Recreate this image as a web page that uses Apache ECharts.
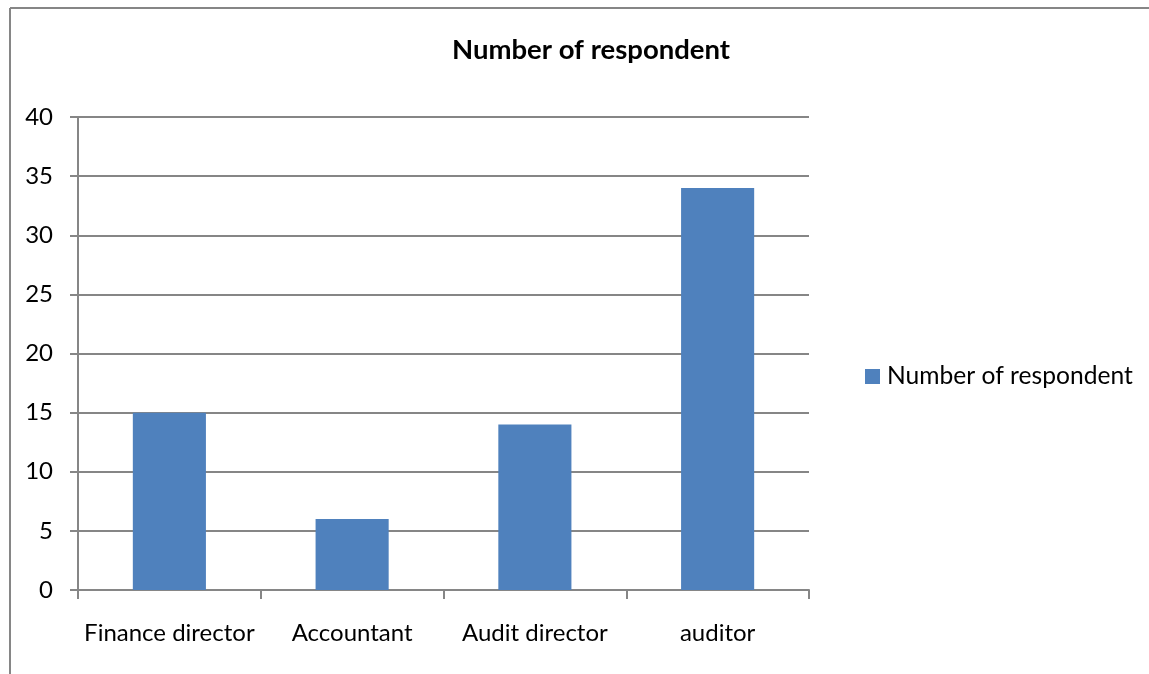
<!DOCTYPE html>
<html><head><meta charset="utf-8">
<script src="https://cdn.jsdelivr.net/npm/echarts@6/dist/echarts.min.js"></script>
<style>html,body{margin:0;padding:0;background:#fff}#c{width:1149px;height:674px}</style>
</head><body><div id="c"></div>
<script>
const categories = ['Finance director', 'Accountant', 'Audit director', 'auditor'];
const respondents = [15, 6, 14, 34];
const seriesName = 'Number of respondent';
const FONT = 'Lato';
const chart = echarts.init(document.getElementById('c'));
chart.setOption({
  animation: false,
  title: { text: seriesName, left: 586, top: 31, textAlign: 'center',
    textStyle: { fontFamily: FONT, fontSize: 27.5, fontWeight: 'bold', color: '#000' } },
  legend: { data: [seriesName], left: 860, top: 359, itemWidth: 15, itemHeight: 15, itemGap: 6,
    icon: 'rect', textStyle: { fontFamily: FONT, fontSize: 24.6, color: '#000', padding: [0,0,0,2] } },
  grid: { left: 78, right: 340, top: 117, bottom: 84, containLabel: false },
  xAxis: { type: 'category', data: categories,
    axisLine: { lineStyle: { color: '#868686', width: 2 } },
    axisTick: { show: true, length: 9, lineStyle: { color: '#868686', width: 2 } },
    axisLabel: { interval: 0, fontFamily: FONT, fontSize: 24, color: '#000', margin: 31 } },
  yAxis: { type: 'value', min: 0, max: 40, interval: 5,
    axisLine: { show: true, lineStyle: { color: '#868686', width: 2 } },
    axisTick: { show: true, length: 8, lineStyle: { color: '#868686', width: 2 } },
    splitLine: { lineStyle: { color: '#868686', width: 2 } },
    axisLabel: { fontFamily: FONT, fontSize: 24, color: '#000', margin: 25 } },
  series: [{ name: seriesName, type: 'bar', data: respondents, barWidth: '40%',
    itemStyle: { color: '#4F81BD' } }],
  graphic: [
    { type: 'line', shape: { x1: 10, y1: 8, x2: 1149, y2: 8 }, style: { stroke: '#868686', lineWidth: 2 } },
    { type: 'line', shape: { x1: 10, y1: 8, x2: 10, y2: 674 }, style: { stroke: '#868686', lineWidth: 2 } }
  ]
});
</script></body></html>
